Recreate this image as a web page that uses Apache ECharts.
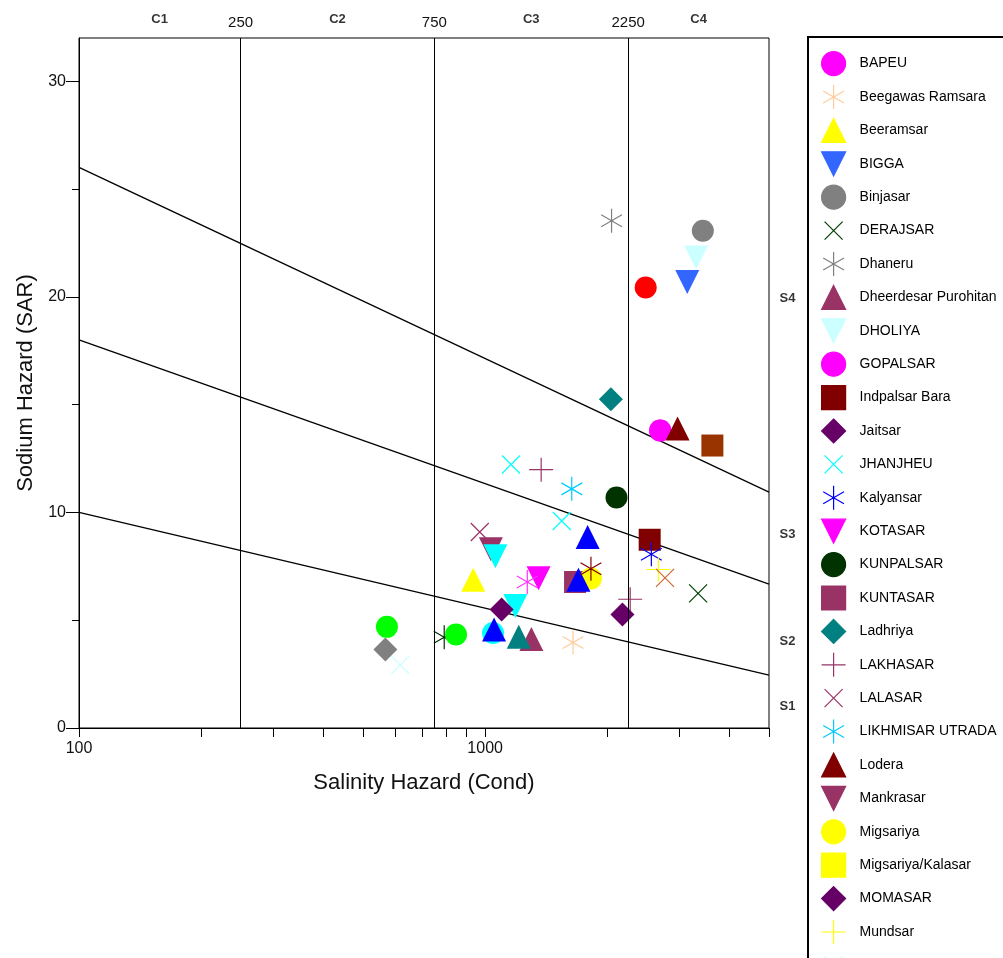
<!DOCTYPE html>
<html>
<head>
<meta charset="utf-8">
<script src="https://cdn.jsdelivr.net/npm/echarts@6/dist/echarts.min.js"></script>
<style>html,body{margin:0;padding:0;background:#fff;}#c{width:1003px;height:958px;}</style>
</head>
<body>
<div id="c"></div>
<script>
// ---- data (EC in µS/cm, SAR) ----
const BAPEU = [[2696, 13.8]];
const BEEGAWAS_RAMSARA = [[1646, 3.97]];
const BEERAMSAR = [[935, 6.88]];
const BIGGA = [[3145, 20.68]];
const BINJASAR = [[3436, 23.06]];
const DERAJSAR = [[3345, 6.24]];
const DHANERU = [[2048, 23.52]];
const DHEERDESAR_PUROHITAN = [[1300, 4.13]];
const DHOLIYA = [[3308, 21.82]];
const GOPALSAR = [[2700, 13.8]];
const INDPALSAR_BARA = [[2542, 8.73]];
const JAITSAR = [[1098, 5.50]];
const JHANJHEU = [[1158, 12.22], [1544, 9.60]];
const KALYANSAR = [[2566, 8.06]];
const KOTASAR = [[1354, 6.94]];
const KUNPALSAR = [[2106, 10.69]];
const KUNTASAR = [[1665, 6.77]];
const LADHRIYA = [[2040, 15.25]];
const LAKHASAR = [[1374, 11.98], [2276, 5.97]];
const LALASAR = [[970, 9.09]];
const LIKHMISAR_UTRADA = [[1634, 11.09]];
const LODERA = [[2977, 13.89]];
const MANKRASAR = [[1033, 8.29]];
const MIGSARIYA = [[1822, 6.93]];
const MIGSARIYA_KALASAR = [];
const MOMASAR = [[2178, 5.26]];
const MUNDSAR = [[2670, 7.35]];
// further sites (legend entries below the visible area)
const SITE_28 = [[618, 2.92]];
const SITE_29 = [[2485, 20.43]];
const SITE_30 = [[1788, 8.86], [1697, 6.88], [1052, 4.57]];
const SITE_31 = [[1060, 7.96], [1187, 5.66]];
const SITE_32 = [[573, 4.69], [848, 4.34]];
const SITE_33 = [[568, 3.64]];
const SITE_34 = [[1046, 4.41]];
const SITE_35 = [[1210, 4.23]];
const SITE_36 = [[1270, 6.77]];
const SITE_37 = [[1822, 7.39]];
const SITE_38 = [[3627, 13.10]];
const SITE_39 = [[2773, 6.96]];
const SITE_40 = [[793, 4.21]];

// classification boundaries
const EC_LIMITS = [250, 750, 2250];
const SAR_LINE_1 = [[100, 10.0], [5000, 2.45]];
const SAR_LINE_2 = [[100, 18.0], [5000, 6.67]];
const SAR_LINE_3 = [[100, 26.0], [5000, 10.94]];
const C_LABELS = [[158, 32, 'C1'], [433, 32, 'C2'], [1299, 32, 'C3'], [3354, 32, 'C4']];
const S_LABELS = [[5000, 19.9, 'S4'], [5000, 9.0, 'S3'], [5000, 4.0, 'S2'], [5000, 1.0, 'S1']];
const X_TICKS = [100,200,300,400,500,600,700,800,900,1000,2000,3000,4000,5000];
const X_LABELS = [100, 1000];
const Y_TICKS = [0, 10, 20, 30];
const Y_MINOR = [5, 15, 25];

// ---- styling ----
const SYM = {
  circle: ['circle', 22],
  tri: ['triangle', 24],
  down: ['path://M0,0L24,0L12,24Z', 24],
  square: ['rect', 22],
  diamond: ['diamond', 24],
  x: ['path://M0,0M24,24M3,3L21,21M21,3L3,21', 24],
  plus: ['path://M12,0L12,24M0,12L24,12', 24],
  star: ['path://M0,0M24,24M12,0L12,24M1.6,6L22.4,18M1.6,18L22.4,6', 24]
};
const LINE_SYMS = ['x', 'plus', 'star'];

const SPEC = [
  ['BAPEU', BAPEU, 'circle', '#ff00ff'],
  ['Beegawas Ramsara', BEEGAWAS_RAMSARA, 'star', '#ffcc99'],
  ['Beeramsar', BEERAMSAR, 'tri', '#ffff00'],
  ['BIGGA', BIGGA, 'down', '#3366ff'],
  ['Binjasar', BINJASAR, 'circle', '#808080'],
  ['DERAJSAR', DERAJSAR, 'x', '#004000'],
  ['Dhaneru', DHANERU, 'star', '#808080'],
  ['Dheerdesar Purohitan', DHEERDESAR_PUROHITAN, 'tri', '#993366'],
  ['DHOLIYA', DHOLIYA, 'down', '#ccffff'],
  ['GOPALSAR', GOPALSAR, 'circle', '#ff00ff'],
  ['Indpalsar Bara', INDPALSAR_BARA, 'square', '#800000'],
  ['Jaitsar', JAITSAR, 'diamond', '#660066', 4],
  ['JHANJHEU', JHANJHEU, 'x', '#00ffff'],
  ['Kalyansar', KALYANSAR, 'star', '#0000ff'],
  ['KOTASAR', KOTASAR, 'down', '#ff00ff'],
  ['KUNPALSAR', KUNPALSAR, 'circle', '#003300'],
  ['KUNTASAR', KUNTASAR, 'square', '#993366'],
  ['Ladhriya', LADHRIYA, 'diamond', '#008080'],
  ['LAKHASAR', LAKHASAR, 'plus', '#993366'],
  ['LALASAR', LALASAR, 'x', '#993366'],
  ['LIKHMISAR UTRADA', LIKHMISAR_UTRADA, 'star', '#00ccff'],
  ['Lodera', LODERA, 'tri', '#800000'],
  ['Mankrasar', MANKRASAR, 'down', '#993366'],
  ['Migsariya', MIGSARIYA, 'circle', '#ffff00'],
  ['Migsariya/Kalasar', MIGSARIYA_KALASAR, 'square', '#ffff00'],
  ['MOMASAR', MOMASAR, 'diamond', '#660066'],
  ['Mundsar', MUNDSAR, 'plus', '#ffff00'],
  ['PABAKSAR', SITE_28, 'x', '#ccffff'],
  ['Site 29', SITE_29, 'circle', '#ff0000'],
  ['Site 30', SITE_30, 'tri', '#0000ff'],
  ['Site 31', SITE_31, 'down', '#00ffff'],
  ['Site 32', SITE_32, 'circle', '#00ff00'],
  ['Site 33', SITE_33, 'diamond', '#808080'],
  ['Site 34', SITE_34, 'circle', '#00ffff', 1],
  ['Site 35', SITE_35, 'tri', '#008080'],
  ['Site 36', SITE_36, 'star', '#ff33ff'],
  ['Site 37', SITE_37, 'star', '#800000'],
  ['Site 38', SITE_38, 'square', '#993300'],
  ['Site 39', SITE_39, 'x', '#cc6633'],
  ['Site 40', SITE_40, 'star', '#003300', 1]
];
const LEGEND_NAMES = SPEC.slice(0, 28).map(s => s[0]);

const FONT = 'Liberation Sans, Arial, sans-serif';
const series = SPEC.map(([name, data, sym, color, z]) => {
  const isLine = LINE_SYMS.includes(sym);
  return {
    name, type: 'scatter', data,
    symbol: SYM[sym][0], symbolSize: SYM[sym][1],
    z: z || 2,
    itemStyle: { color: color, borderColor: color, borderWidth: isLine ? 1.2 : 0, opacity: 1 },
    emphasis: { disabled: true }
  };
});

const lineStyle = { color: '#000', width: 1.3, type: 'solid' };
[SAR_LINE_1, SAR_LINE_2, SAR_LINE_3].forEach((d, i) => {
  const s = { type: 'line', data: d, symbol: 'none', silent: true, lineStyle, z: 1, animation: false };
  if (i === 0) {
    s.markLine = {
      silent: true, symbol: 'none', animation: false,
      lineStyle: { color: '#000', width: 1, type: 'solid' },
      label: { show: true, position: 'end', distance: 8, formatter: p => String(p.value), fontSize: 15, color: '#111', fontFamily: FONT },
      data: EC_LIMITS.map(v => ({ xAxis: v }))
    };
  }
  series.push(s);
});
series.push({
  type: 'scatter', data: C_LABELS, symbolSize: 1, silent: true, itemStyle: { color: 'rgba(0,0,0,0)' },
  label: { show: true, position: 'top', distance: 12, formatter: p => p.value[2], fontSize: 13, fontWeight: 'bold', color: '#000', fontFamily: FONT }
});
series.push({
  type: 'scatter', data: S_LABELS, symbolSize: 1, silent: true, clip: false, itemStyle: { color: 'rgba(0,0,0,0)' },
  label: { show: true, position: 'right', distance: 10, formatter: p => p.value[2], fontSize: 13, fontWeight: 'bold', color: '#000', fontFamily: FONT }
});

const chart = echarts.init(document.getElementById('c'), null, { renderer: 'canvas' });
chart.setOption({
  animation: false,
  backgroundColor: '#fff',
  textStyle: { fontFamily: FONT },
  grid: { left: 79, top: 38, right: 234, bottom: 230, show: true, borderColor: '#000', borderWidth: 1, containLabel: false, outerBoundsMode: 'none' },
  legend: {
    data: LEGEND_NAMES, orient: 'vertical', left: 808, top: 37, height: 3000,
    padding: [14, 40, 14, 13], itemWidth: 24, itemHeight: 24, itemGap: 8.2,
    borderColor: '#000', borderWidth: 2, backgroundColor: '#fff',
    itemStyle: { borderWidth: 1.2 },
    textStyle: { fontSize: 14, color: '#000', fontFamily: FONT, padding: [0, 0, 0, 9] },
    selectedMode: false
  },
  xAxis: {
    type: 'log', logBase: 10, min: 100, max: 5000,
    name: 'Salinity Hazard (Cond)', nameLocation: 'middle', nameGap: 44,
    nameTextStyle: { fontSize: 22, color: '#111', fontFamily: FONT },
    axisLine: { show: true, lineStyle: { color: '#000', width: 1 } },
    axisTick: { show: true, length: 9, customValues: X_TICKS, lineStyle: { color: '#000' } },
    minorTick: { show: false },
    axisLabel: { customValues: X_LABELS, fontSize: 16, color: '#111', margin: 13, formatter: v => String(Math.round(v)) },
    splitLine: { show: false }
  },
  yAxis: [{
    type: 'value', min: 0, max: 32, position: 'left',
    name: 'Sodium Hazard (SAR)', nameLocation: 'middle', nameGap: 36,
    nameTextStyle: { fontSize: 22, color: '#111', fontFamily: FONT },
    axisLine: { show: true, lineStyle: { color: '#000', width: 1 } },
    axisTick: { show: true, length: 13, customValues: Y_TICKS, lineStyle: { color: '#000' } },
    axisLabel: { customValues: Y_TICKS, fontSize: 16, color: '#111', margin: 13 },
    splitLine: { show: false }
  }, {
    type: 'value', min: 0, max: 32, position: 'left', offset: 0,
    axisLine: { show: false },
    axisTick: { show: true, length: 7, customValues: Y_MINOR, lineStyle: { color: '#000' } },
    axisLabel: { show: false },
    splitLine: { show: false }
  }],
  series
});
</script>
</body>
</html>
